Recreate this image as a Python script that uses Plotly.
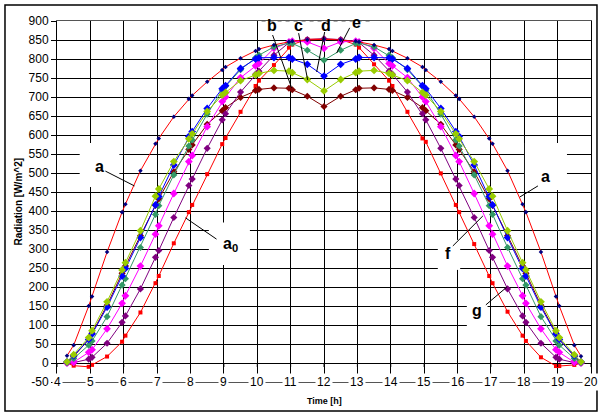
import plotly.graph_objects as go

# ---------------- data ----------------
TIME_H = [4.3, 4.5, 4.95, 5.05, 5.5, 5.95, 6.05, 6.5, 6.95, 7.05, 7.5, 7.95, 8.05, 8.5,
          8.95, 9.05, 9.5, 9.95, 10.05, 10.5, 10.95, 11.05, 11.5, 12.0,
          12.5, 12.95, 13.05, 13.5, 13.95, 14.05, 14.5, 14.95, 15.05, 15.5, 15.95, 16.05,
          16.5, 16.95, 17.05, 17.5, 17.95, 18.05, 18.5, 18.95, 19.05, 19.5, 19.7]

CURVE_A = [19, 47, 150, 175, 292, 397, 418, 506, 577, 591, 648, 695, 704, 740,
           771, 779, 802, 821, 826, 837, 845, 847, 850, 852,
           850, 847, 845, 837, 826, 821, 802, 779, 771, 740, 704, 695,
           648, 591, 577, 506, 418, 397, 292, 175, 150, 47, 18]

CURVE_A0 = [-1, -7, -10, -5, 17, 56, 72, 133, 210, 229, 315, 397, 416, 497,
            576, 592, 661, 729, 743, 784, 830, 838, 852, 853,
            851, 838, 830, 786, 743, 729, 661, 591, 582, 499, 416, 397,
            313, 229, 210, 135, 72, 58, 15, -8, -8, -5, -1]

CURVE_G = [0, 1, 10, 15, 52, 107, 124, 195, 278, 296, 383, 467, 484, 565,
           640, 656, 713, 760, 768, 810, 843, 846, 851, 853,
           851, 846, 843, 810, 768, 760, 713, 656, 640, 565, 484, 467,
           383, 296, 278, 195, 124, 107, 52, 15, 10, 1, 0]

CURVE_F = [0, 2, 28, 35, 90, 157, 177, 255, 339, 361, 446, 530, 546, 622,
           688, 700, 751, 782, 788, 828, 845, 847, 845, 828,
           845, 847, 845, 828, 788, 782, 751, 700, 688, 622, 546, 530,
           446, 361, 339, 255, 177, 157, 90, 35, 28, 2, 0]

CURVE_E = [1, 12, 47, 58, 122, 205, 222, 304, 391, 414, 495, 571, 587, 655,
           718, 728, 772, 803, 810, 832, 842, 841, 823, 797,
           823, 841, 842, 832, 810, 803, 772, 728, 718, 655, 587, 571,
           495, 414, 391, 304, 222, 205, 122, 58, 47, 12, 1]

CURVE_D = [3, 19, 62, 76, 147, 229, 249, 330, 416, 438, 521, 596, 609, 670,
           722, 730, 775, 800, 803, 804, 804, 800, 786, 755,
           786, 800, 804, 804, 803, 800, 775, 730, 722, 670, 609, 596,
           521, 438, 416, 330, 249, 229, 147, 76, 62, 19, 3]

CURVE_C = [3, 22, 67, 85, 161, 245, 264, 348, 439, 458, 530, 590, 603, 662,
           705, 712, 743, 758, 762, 770, 768, 764, 746, 716,
           746, 764, 768, 770, 762, 758, 743, 712, 705, 662, 603, 590,
           530, 458, 439, 348, 264, 245, 161, 85, 67, 22, 3]

CURVE_B = [2, 17, 62, 78, 152, 236, 255, 335, 415, 432, 503, 562, 574, 628,
           664, 672, 699, 717, 720, 724, 723, 719, 702, 675,
           702, 719, 723, 724, 720, 717, 699, 672, 664, 628, 574, 562,
           503, 432, 415, 335, 255, 236, 152, 78, 62, 17, 2]

X_TICKS = [4, 5, 6, 7, 8, 9, 10, 11, 12, 13, 14, 15, 16, 17, 18, 19, 20]
Y_TICKS = [-50, 0, 50, 100, 150, 200, 250, 300, 350, 400, 450, 500, 550, 600, 650,
           700, 750, 800, 850, 900]
Y_TICK_LABELS = ["-50", "0", "50", "100", "150", "200", "250", "300", "350", "400", "450",
                 "500", "550", "600", "650", "700", "750", "800", "850", "900"]

# curve labels: (text, x, y)
LABELS = [("a", 5.27, 516), ("a<sub>0</sub>", 9.2, 313), ("b", 10.43, 887), ("c", 11.24, 889),
          ("d", 12.05, 889), ("e", 12.98, 895), ("a", 18.64, 492), ("f", 15.71, 289),
          ("g", 16.58, 139)]
# leader lines: (x0, y0, x1, y1)
LEADERS = [(5.45, 505, 6.32, 466), (7.85, 382, 8.78, 326), (10.46, 863, 11.03, 724),
           (11.24, 868, 11.51, 745), (12.02, 871, 11.78, 766), (12.77, 882, 12.38, 816),
           (18.41, 466, 17.87, 437), (15.86, 308, 16.76, 387), (16.85, 153, 17.48, 200)]
# white label boxes hiding the grid: (x0, y0, x1, y1)
BOXES = [(4.68, 463, 5.87, 579), (8.55, 258, 9.78, 370), (10.13, 852, 13.37, 900),
         (18.02, 455, 19.28, 579), (15.41, 245, 16.08, 324), (16.28, 87, 16.9, 184)]

FONT = "Liberation Sans, Arial, sans-serif"

fig = go.Figure()

series = [
    (CURVE_A0, "#FF0000", "#FF0000", "square", 4),
    (CURVE_B, "#800000", "#800000", "diamond", 5.5),
    (CURVE_G, "#800080", "#800080", "diamond", 5.5),
    (CURVE_F, "#FF00FF", "#FF00FF", "diamond", 6),
    (CURVE_E, "#339966", "#339966", "diamond", 5.5),
    (CURVE_D, "#0000FF", "#0000FF", "diamond", 6),
    (CURVE_C, "#99CC00", "#99CC00", "diamond", 6),
    (CURVE_A, "#FF0000", "#000080", "diamond", 3.5),
]
for vals, lc, mc, sym, sz in series:
    fig.add_trace(go.Scatter(
        x=TIME_H, y=vals, mode="lines+markers",
        line=dict(color=lc, width=1),
        marker=dict(symbol=sym, size=sz, color=mc, line=dict(width=0)),
        showlegend=False, hoverinfo="skip"))

shapes = []
for x0, y0, x1, y1 in BOXES:
    shapes.append(dict(type="rect", xref="x", yref="y", x0=x0, x1=x1, y0=y0, y1=y1,
                       fillcolor="white", line=dict(width=0), layer="between"))
# dashed top edge on the top label box
shapes.append(dict(type="line", xref="x", yref="y", x0=BOXES[2][0], x1=BOXES[2][2], y0=900, y1=900,
                   line=dict(color="#555", width=1, dash="4px,4px"), layer="above"))
for x0, y0, x1, y1 in LEADERS:
    shapes.append(dict(type="line", xref="x", yref="y", x0=x0, y0=y0, x1=x1, y1=y1,
                       line=dict(color="black", width=1), layer="above"))
# small tick marks below the zero line
for h in X_TICKS:
    shapes.append(dict(type="line", xref="x", yref="y", x0=h, x1=h, ysizemode="pixel",
                       yanchor=0, y0=0, y1=-4, line=dict(color="black", width=1), layer="above"))
# outer chart frame
shapes.append(dict(type="rect", xref="paper", yref="paper", x0=-0.0974, x1=1.0112,
                   y0=-0.08, y1=1.0443, line=dict(color="black", width=1.5), layer="above"))

annotations = []
for t, x, y in LABELS:
    annotations.append(dict(text="<b>" + t + "</b>", x=x, y=y, xref="x", yref="y", showarrow=False,
                            font=dict(family=FONT, size=16, color="black")))
for h in X_TICKS:
    annotations.append(dict(text=str(h), x=h, y=-50, xref="x", yref="y", showarrow=False,
                            bgcolor="white", borderpad=1,
                            font=dict(family=FONT, size=12, color="black")))
annotations.append(dict(text="<b>Radiation [W/m^2]</b>", textangle=-90, x=-0.0712, y=0.5,
                        xref="paper", yref="paper", xanchor="center", yanchor="middle",
                        showarrow=False, font=dict(family=FONT, size=10, color="black")))
annotations.append(dict(text="<b>Time [h]</b>", x=0.5, y=-0.053, xref="paper", yref="paper",
                        xanchor="center", yanchor="middle",
                        showarrow=False, font=dict(family=FONT, size=9, color="black")))

fig.update_layout(
    width=599, height=414,
    margin=dict(l=57, r=8, t=21, b=32),
    paper_bgcolor="white", plot_bgcolor="white",
    shapes=shapes, annotations=annotations,
    xaxis=dict(range=[4, 20], tickvals=X_TICKS, showticklabels=False, ticks="",
               showgrid=True, gridcolor="black", gridwidth=1, zeroline=False,
               showline=True, linecolor="#555", linewidth=1, mirror=True),
    yaxis=dict(range=[-50, 900], tickvals=Y_TICKS, ticktext=Y_TICK_LABELS,
               ticks="outside", ticklen=5, tickcolor="black",
               tickfont=dict(family=FONT, size=12, color="black"),
               showgrid=True, gridcolor="black", gridwidth=1, zeroline=False,
               showline=True, linecolor="black", linewidth=1, mirror=True),
)

fig.write_html("out.html", config={"displayModeBar": False},
               post_script="document.body.style.margin='0';document.body.style.padding='0';")
